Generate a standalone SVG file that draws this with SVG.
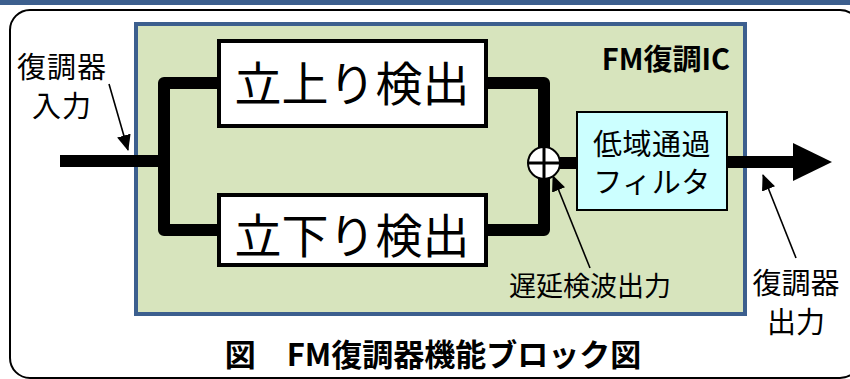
<svg xmlns="http://www.w3.org/2000/svg" width="850" height="379" viewBox="0 0 850 379">
<style>
text{font-family:"Noto Sans CJK JP","Liberation Sans",sans-serif;fill:#000}
.thick{fill:none;stroke:#000;stroke-width:12;stroke-linejoin:round}
.thin{fill:none;stroke:#000;stroke-width:1.6}
.box{fill:#fff;stroke:#000;stroke-width:4}
</style>
<defs>
<marker id="ah" markerWidth="16" markerHeight="14" refX="15" refY="7" orient="auto" markerUnits="userSpaceOnUse">
<path d="M0,0 L16,7 L0,14 Z" fill="#000"/>
</marker>
</defs>
<rect x="0" y="0" width="850" height="5" fill="#3c5f8e"/>
<rect x="10" y="10" width="850" height="368" rx="20" fill="#fff" stroke="#000" stroke-width="2"/>
<g id="ic">
<rect x="136" y="24" width="609" height="290" fill="#d7e4bd" stroke="#3c5f8e" stroke-width="4"/>
<text x="730" y="70" font-size="29" font-weight="bold" text-anchor="end">FM復調IC</text>
</g>
<g id="connectors">
<path class="thick" d="M60,161 H164"/>
<path class="thick" d="M217,83 H164 V230 H217"/>
<path class="thick" d="M487,83 H544 V230 H487"/>
<path class="thick" d="M560,163 H577"/>
<path class="thick" d="M727,162 H796"/>
<polygon points="793,143 832,162 793,181" fill="#000"/>
<path class="thin" d="M109,84 L128,150" marker-end="url(#ah)"/>
<path class="thin" d="M590,268 L553,176" marker-end="url(#ah)"/>
<path class="thin" d="M796,258 L763,175" marker-end="url(#ah)"/>
</g>
<g id="rise">
<rect class="box" x="219" y="41" width="267" height="85"/>
<text x="352" y="101" font-size="47" text-anchor="middle">立上り検出</text>
</g>
<g id="fall">
<rect class="box" x="219" y="195" width="267" height="70"/>
<text x="352" y="253" font-size="47" text-anchor="middle">立下り検出</text>
</g>
<g id="sum">
<circle cx="544" cy="163" r="16" fill="#fff" stroke="#000" stroke-width="2"/>
<path d="M528,163 H560 M544,147 V179" stroke="#000" stroke-width="3"/>
</g>
<g id="lpf">
<rect x="577" y="112" width="150" height="98" fill="#ccffff" stroke="#000" stroke-width="2"/>
<text x="652" y="155" font-size="29" text-anchor="middle" letter-spacing="0.5">低域通過</text>
<text x="652" y="193" font-size="29" text-anchor="middle" letter-spacing="0.5">フィルタ</text>
</g>
<g id="labels">
<text x="62" y="78" font-size="29" text-anchor="middle" letter-spacing="1">復調器</text>
<text x="62" y="117" font-size="29" text-anchor="middle" letter-spacing="1">入力</text>
<text x="590" y="296" font-size="27" text-anchor="middle">遅延検波出力</text>
<text x="796" y="294" font-size="29" text-anchor="middle">復調器</text>
<text x="796" y="333" font-size="29" text-anchor="middle">出力</text>
<text x="433" y="366" font-size="31" font-weight="bold" text-anchor="middle">図　FM復調器機能ブロック図</text>
</g>
</svg>
